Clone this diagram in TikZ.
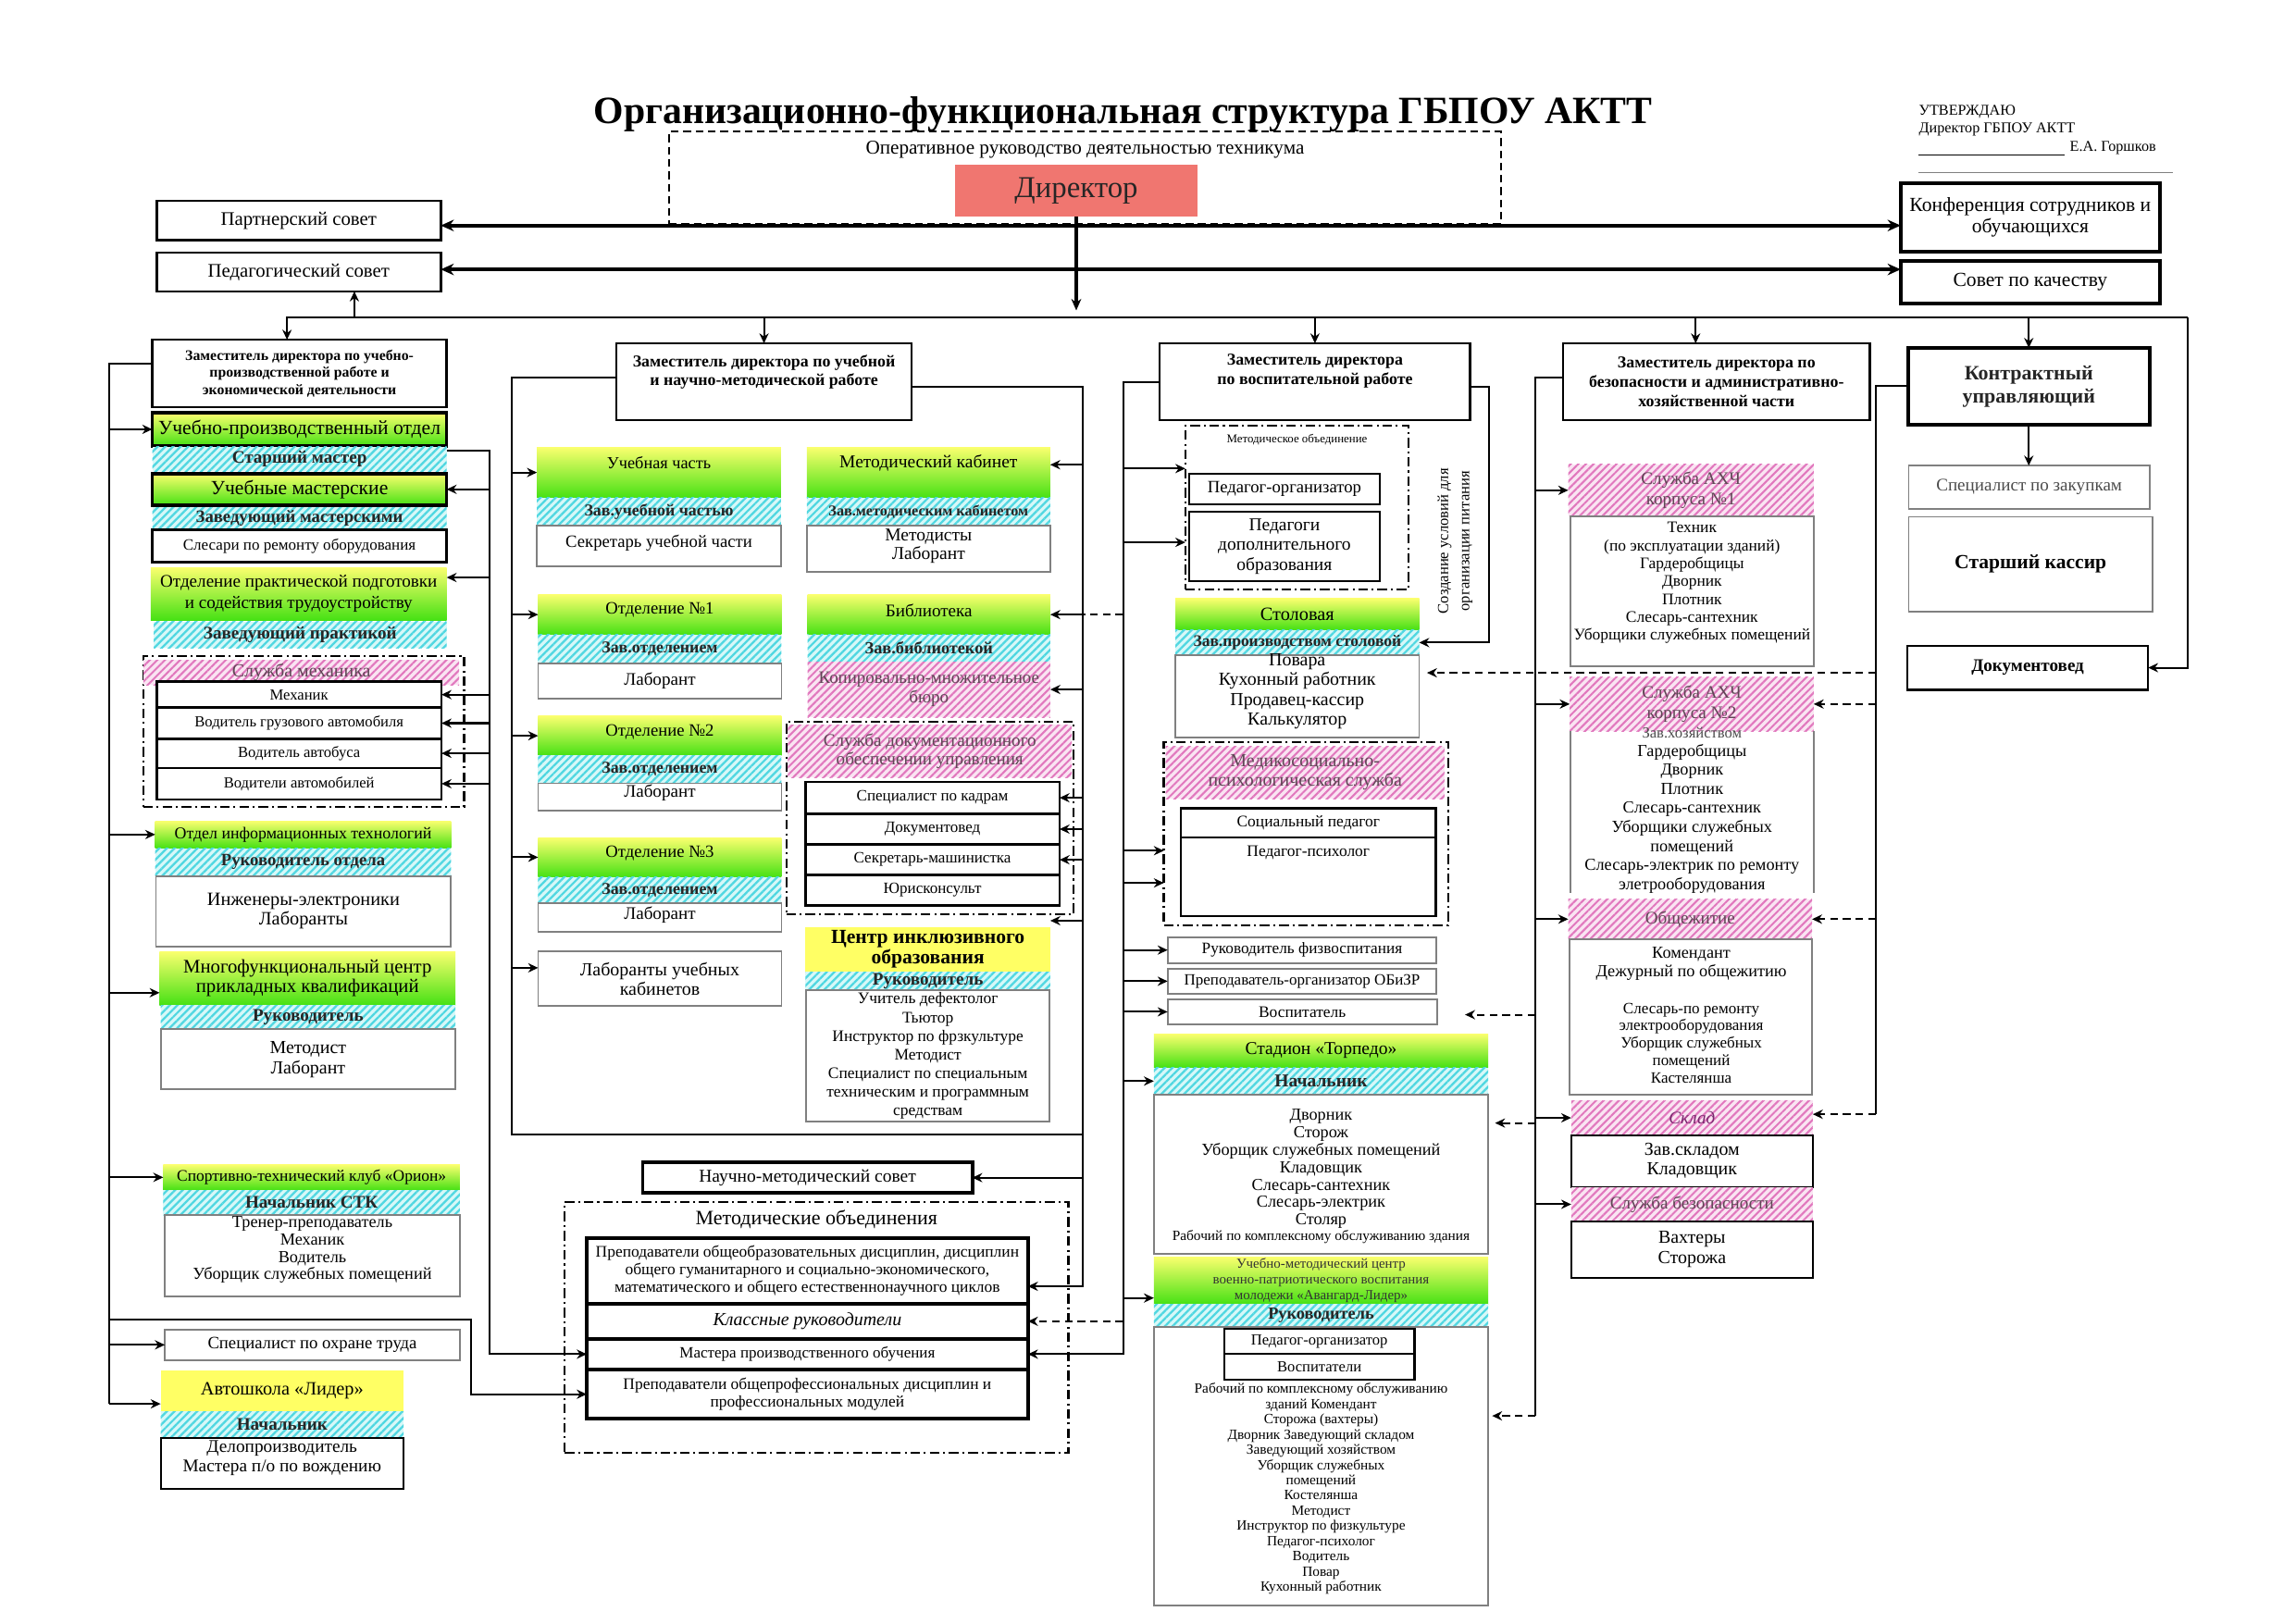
\documentclass[tikz,border=0pt]{standalone}
\usepackage{fontspec}
\setmainfont{Liberation Serif}
\usetikzlibrary{arrows.meta,patterns.meta}
\definecolor{gtop}{RGB}{250,255,110}
\definecolor{gbot}{RGB}{70,225,20}
\definecolor{yel}{RGB}{255,255,100}
\definecolor{cybg}{RGB}{215,248,248}
\definecolor{cyl}{RGB}{80,215,225}
\definecolor{pkbg}{RGB}{250,228,242}
\definecolor{pkl}{RGB}{225,120,190}
\definecolor{pktx}{RGB}{95,70,85}
\definecolor{salm}{RGB}{240,118,112}
\definecolor{skc}{RGB}{120,40,110}
\definecolor{gbr}{RGB}{128,128,128}
\def\un{0.13393mm}
\newcommand\fz[1]{\fontsize{#1}{#1}\selectfont}
\newcommand\fzs[2]{\fontsize{#1}{#2}\selectfont}
\newcommand\bx[7]{\pgfmathsetmacro\bxw{(#4)-(#2)}\pgfmathsetmacro\bxh{(#5)-(#3)}\node[#6,minimum width=\bxw*\un,minimum height=\bxh*\un,anchor=north west] (#1) at (#2,#3) {#7};}
\tikzset{
 base/.style={inner sep=0pt,outer sep=0pt,align=center,text=black},
 wb/.style={base,draw=black,line width=0.5pt,fill=white},
 gb/.style={base,draw=gbr,line width=0.45pt,fill=white},
 grn/.style={base,top color=gtop,bottom color=gbot},
 yel/.style={base,fill=yel},
 cy/.style={base,preaction={fill=cybg},pattern={Lines[angle=45,distance=1.4pt,line width=0.55pt]},pattern color=cyl,text=black!85},
 pk/.style={base,preaction={fill=pkbg},pattern={Lines[angle=45,distance=1.4pt,line width=0.5pt]},pattern color=pkl,text=pktx},
 dd/.style={draw=black,line width=0.55pt,dash pattern=on 2.5pt off 1pt on 0.5pt off 1pt},
 ln/.style={line width=0.5pt},
 arr/.style={line width=0.5pt,-{Stealth[length=2.6pt,width=2.4pt]}},
 darr/.style={arr,dash pattern=on 2pt off 1.3pt},
 tharr2/.style={line width=1pt,{Stealth[length=3.4pt,width=3pt]}-{Stealth[length=3.4pt,width=3pt]}},
 txt/.style={inner sep=0pt,align=center},
}
\begin{document}
\begin{tikzpicture}[x=0.13393mm,y=-0.13393mm]
\useasboundingbox (0,0) rectangle (1568,1109);
\fill[white] (0,0) rectangle (1568,1109);

% ---------- top ----------
\bx{opbox}{457}{90}{1025}{153}{base,draw,line width=0.45pt,dash pattern=on 2pt off 1.2pt}{}
\node[txt,font=\bfseries\fz{10.05}] (title) at (767,78) {Организационно-функциональная структура ГБПОУ АКТТ};
\node[txt,font=\fz{5.1}] (opT) at (741,102) {Оперативное руководство деятельностью техникума};
\bx{dir}{652}{112.5}{818}{148}{base,fill=salm,text=black!85,font=\fz{7.9}}{Директор}
\node[txt,anchor=west,font=\fz{3.9}] (ap1) at (1310,76.5) {УТВЕРЖДАЮ};
\node[txt,anchor=west,font=\fz{3.9}] (ap2) at (1310,88.5) {Директор ГБПОУ АКТТ};
\node[txt,anchor=west,font=\fz{3.9}] (ap3) at (1413,101) {Е.А. Горшков};
\draw[line width=0.3pt] (1310,106) -- (1410,106);
\draw[line width=0.3pt,black!50] (1310,118) -- (1484,118);

\bx{partner}{107}{137}{301}{164}{wb,line width=0.6pt,font=\fz{5}}{Партнерский совет}
\bx{pedsov}{107}{172.5}{301}{199}{wb,line width=0.6pt,font=\fz{5}}{Педагогический совет}
\bx{konf}{1298}{125}{1475}{172}{wb,line width=0.9pt,font=\fzs{5.2}{5.6}}{Конференция сотрудников и\\обучающихся}
\bx{kach}{1298}{178}{1475}{207.5}{wb,line width=0.9pt,font=\fz{5.2}}{Совет по качеству}

% ---------- deputies ----------
\bx{upr}{104}{232}{305}{278}{wb,line width=0.6pt,font=\bfseries\fzs{3.8}{4.5}}{Заместитель директора по учебно-\\производственной работе и\\экономической деятельности}
\bx{umr}{421}{234.5}{622.5}{287}{wb,line width=0.6pt}{}
\node[txt,font=\bfseries\fzs{4.3}{4.75}] (umrT) at (521.75,254.3) {Заместитель директора по учебной\\и научно-методической работе};
\bx{vosp}{792}{234.5}{1004}{287}{wb,line width=0.6pt}{}
\node[txt,font=\bfseries\fzs{4.3}{4.95}] (vospT) at (898,253.5) {Заместитель директора\\по воспитательной работе};
\bx{bez}{1067.5}{234.5}{1277}{287}{wb,line width=0.6pt,font=\bfseries\fzs{4.3}{5.1}}{Заместитель директора по\\безопасности и административно-\\хозяйственной части}
\bx{kontr}{1303}{237.6}{1468}{290}{wb,line width=0.9pt,text=black!85,font=\bfseries\fzs{5.3}{6}}{Контрактный\\управляющий}
\bx{spec}{1303.5}{318}{1468}{347.6}{gb,text=black!70,font=\fz{4.6}}{Специалист по закупкам}
\bx{kass}{1303.5}{353}{1470}{417.5}{gb,font=\bfseries\fz{5.2}}{Старший кассир}
\bx{docved}{1302.5}{441}{1467}{471}{wb,line width=0.6pt,font=\bfseries\fz{4.6}}{Документовед}

% ---------- UPR column ----------
\bx{upo}{104}{282}{305}{304.4}{grn,draw=black,line width=0.9pt,font=\fz{5.2}}{Учебно-производственный отдел}
\bx{sm}{104}{305}{305}{321.7}{cy,font=\bfseries\fz{4.6}}{Старший мастер}
\bx{um}{104}{323.4}{305}{345}{grn,draw=black,line width=0.9pt,font=\fz{5.2}}{Учебные мастерские}
\bx{zm}{104}{346.4}{305}{362}{cy,font=\bfseries\fz{4.5}}{Заведующий мастерскими}
\bx{sl}{104}{362}{305}{384}{wb,line width=0.7pt,font=\fz{4.1}}{Слесари по ремонту оборудования}
\bx{opp}{103}{387.5}{305}{423.5}{grn,font=\fzs{4.6}{5.4}}{Отделение практической подготовки\\и содействия трудоустройству}
\bx{zp}{105}{424.5}{305}{442.4}{cy,font=\bfseries\fz{4.6}}{Заведующий практикой}
\bx{mech}{97.8}{448}{317}{551}{base,dd}{}
\bx{mechH}{98}{450.8}{313.6}{467.7}{pk,font=\fz{4.8}}{Служба механика}
\bx{r1}{107}{465.5}{301.5}{483.3}{wb,line width=0.6pt,font=\fz{4.0}}{Механик}
\bx{r2}{107}{483.3}{301.5}{504.5}{wb,line width=0.6pt,font=\fz{4.0}}{Водитель грузового автомобиля}
\bx{r3}{107}{504.5}{301.5}{524.5}{wb,line width=0.6pt,font=\fz{4.0}}{Водитель автобуса}
\bx{r4}{107}{524.5}{301.5}{546}{wb,line width=0.6pt,font=\fz{4.0}}{Водители автомобилей}
\bx{itH}{106}{560.6}{308}{579.3}{grn,font=\fz{4.3}}{Отдел информационных технологий}
\bx{itC}{106}{579.3}{308}{598.3}{cy,font=\bfseries\fz{4.5}}{Руководитель отдела}
\bx{itB}{106.5}{598.3}{308}{646.3}{gb,font=\fzs{4.9}{5.1}}{Инженеры-электроники\\Лаборанты}
\bx{mfcH}{109}{649.8}{311}{686.4}{grn,font=\fzs{5}{5.1}}{Многофункциональный центр\\прикладных квалификаций}
\bx{mfcC}{109.7}{686.4}{311}{703}{cy,font=\bfseries\fz{4.6}}{Руководитель}
\bx{mfcB}{109.7}{703}{311}{744}{gb,font=\fzs{4.8}{5.33}}{Методист\\Лаборант}
\bx{stkH}{111.5}{795.4}{314}{812.8}{grn,font=\fz{4.2}}{Спортивно-технический клуб «Орион»}
\bx{stkC}{111.5}{812.8}{314}{829.8}{cy,font=\bfseries\fz{4.6}}{Начальник СТК}
\bx{stkB}{112.6}{829.8}{314}{885.5}{gb}{}
\node[txt,font=\fzs{4.4}{4.57}] (stkT) at (213.3,853.5) {Тренер-преподаватель\\Механик\\Водитель\\Уборщик служебных помещений};
\bx{ot}{112.6}{908}{314}{929}{gb,font=\fz{4.5}}{Специалист по охране труда}
\bx{avtoH}{109.7}{936}{275.6}{963.8}{yel,font=\fz{4.9}}{Автошкола «Лидер»}
\bx{avtoC}{109.7}{963.8}{275.6}{982}{cy,font=\bfseries\fz{4.6}}{Начальник}
\bx{avtoB}{109.7}{982}{275.6}{1017}{wb,line width=0.5pt}{}
\node[txt,font=\fzs{4.65}{5.1}] (avtoT) at (192.6,995.7) {Делопроизводитель\\Мастера п/о по вождению};

% ---------- UMR column ----------
\bx{uchH}{366.7}{305.4}{533.3}{340}{grn}{}
\node[txt,font=\fz{4.4}] (uchT) at (450,316) {Учебная часть};
\bx{uchC}{366.7}{340}{533.3}{359}{cy,font=\bfseries\fz{4.3}}{Зав.учебной частью}
\bx{uchB}{366.7}{359}{533.3}{386.5}{gb}{}
\node[txt,font=\fz{4.5}] (uchBT) at (450,370.8) {Секретарь учебной части};
\bx{mkH}{551}{305.4}{717.2}{340}{grn}{}
\node[txt,font=\fz{4.7}] (mkT) at (634.1,316) {Методический кабинет};
\bx{mkC}{551}{340}{717.2}{359}{cy,font=\bfseries\fz{3.9}}{Зав.методическим кабинетом}
\bx{mkB}{551}{359}{717.2}{390.6}{gb}{}
\node[txt,font=\fzs{4.7}{4.8}] (mkBT) at (634.1,372.9) {Методисты\\Лаборант};
\bx{o1H}{367.5}{406}{533.7}{433.5}{grn}{}
\node[txt,font=\fz{4.5}] (o1T) at (450.6,416.7) {Отделение №1};
\bx{o1C}{367.5}{433.5}{533.7}{453}{cy,font=\bfseries\fz{4.3}}{Зав.отделением}
\bx{o1B}{367.5}{453}{533.7}{477}{gb,font=\fz{4.6}}{Лаборант}
\bx{o2H}{367.5}{489}{533.7}{516}{grn}{}
\node[txt,font=\fz{4.5}] (o2T) at (450.6,499.7) {Отделение №2};
\bx{o2C}{367.5}{516}{533.7}{535}{cy,font=\bfseries\fz{4.3}}{Зав.отделением}
\bx{o2B}{367.5}{535}{533.7}{553.6}{gb}{}
\node[txt,font=\fz{4.6}] (o2BT) at (450.6,541.4) {Лаборант};
\bx{o3H}{367.5}{572}{533.7}{599}{grn}{}
\node[txt,font=\fz{4.5}] (o3T) at (450.6,582.5) {Отделение №3};
\bx{o3C}{367.5}{599}{533.7}{617}{cy,font=\bfseries\fz{4.3}}{Зав.отделением}
\bx{o3B}{367.5}{617}{533.7}{636.6}{gb}{}
\node[txt,font=\fz{4.6}] (o3BT) at (450.6,624.6) {Лаборант};
\bx{lab}{367.5}{649.8}{533.7}{687}{gb,font=\fzs{4.8}{5.1}}{Лаборанты учебных\\кабинетов}
\bx{bibH}{551.5}{406}{717.3}{433.5}{grn}{}
\node[txt,font=\fz{4.6}] (bibT) at (634.4,416.7) {Библиотека};
\bx{bibC}{551.5}{433.5}{717.3}{452}{cy,font=\bfseries\fz{4.4}}{Зав.библиотекой}
\bx{kmb}{551.5}{452}{717.3}{489.8}{pk,font=\fzs{4.55}{5}}{Копировально-множительное\\бюро}
\bx{sdou}{537}{493}{733}{624.5}{base,dd}{}
\bx{sdouH}{538}{495}{732}{531}{pk,font=\fzs{4.6}{5}}{Служба документационного\\обеспечении управления}
\bx{kadr}{550}{534}{723.6}{555.7}{wb,line width=0.6pt,font=\fz{4.1}}{Специалист по кадрам}
\bx{docv}{550}{555.7}{723.6}{576.8}{wb,line width=0.6pt,font=\fz{4.1}}{Документовед}
\bx{sec}{550}{576.8}{723.6}{597.6}{wb,line width=0.6pt,font=\fz{4.1}}{Секретарь-машинистка}
\bx{uris}{550}{597.6}{723.6}{618.3}{wb,line width=0.6pt,font=\fz{4.1}}{Юрисконсульт}
\bx{cioH}{550}{633}{717.3}{663.6}{yel,font=\bfseries\fzs{5.2}{5.1}}{Центр инклюзивного\\образования}
\bx{cioC}{550}{663.6}{717.3}{676.2}{cy,font=\bfseries\fz{4.6}}{Руководитель}
\bx{cioB}{550.7}{676.2}{716.7}{765.8}{gb,font=\fzs{4.2}{4.82}}{Учитель дефектолог\\Тьютор\\Инструктор по фрзкультуре\\Методист\\Специалист по специальным\\техническим и программным\\средствам}
\bx{nms}{439}{793.8}{664}{814.8}{wb,line width=0.9pt,font=\fz{4.7}}{Научно-методический совет}
\bx{moBox}{385.6}{821}{729.7}{992.3}{base,dd}{}
\node[txt,font=\fz{5.3}] (moT) at (557.6,833) {Методические объединения};
\bx{mo1}{400.7}{845.6}{702}{890.5}{wb,line width=1pt,font=\fzs{4.2}{4.57}}{Преподаватели общеобразовательных дисциплин, дисциплин\\общего гуманитарного и социально-экономического,\\математического и общего естественнонаучного циклов}
\bx{mo2}{400.7}{890.5}{702}{914.3}{wb,line width=1pt,font=\itshape\fz{4.8}}{Классные руководители}
\bx{mo3}{400.7}{914.3}{702}{935.4}{wb,line width=1pt,font=\fz{4.1}}{Мастера производственного обучения}
\bx{mo4}{400.7}{935.4}{702}{969}{wb,line width=1pt,font=\fzs{4.2}{4.5}}{Преподаватели общепрофессиональных дисциплин и\\профессиональных модулей}

% ---------- Vosp column ----------
\bx{moObj}{809.5}{290.7}{962}{402.4}{base,dd}{}
\node[txt,font=\fz{3.1}] (moObjT) at (885.75,300.2) {Методическое объединение};
\bx{pedorg}{812}{323.4}{942.3}{344.4}{wb,line width=0.4pt,font=\fz{4.5}}{Педагог-организатор}
\bx{peddop}{812}{349.5}{942.3}{397}{wb,line width=0.4pt,font=\fzs{4.7}{5.2}}{Педагоги\\дополнительного\\образования}
\bx{stolH}{802.7}{408.7}{969.2}{430.2}{grn,font=\fz{4.9}}{Столовая}
\bx{stolC}{802.7}{430.2}{969.2}{447.5}{cy,font=\bfseries\fz{4.2}}{Зав.производством столовой}
\bx{stolB}{802.7}{447.5}{969.2}{503.7}{gb}{}
\node[txt,font=\fzs{4.8}{5.14}] (stolT) at (885.9,472.2) {Повара\\Кухонный работник\\Продавец-кассир\\Калькулятор};
\node[txt,rotate=90,font=\fzs{4}{5.45}] (pit) at (993.7,369.5) {Создание условий для\\организации питания};
\bx{medBox}{794.8}{506.7}{989}{632}{base,dd}{}
\bx{medH}{796}{509.8}{986.5}{545.5}{pk,font=\fzs{4.8}{5.1}}{Медикосоциально-\\психологическая служба}
\bx{soc}{806.5}{551.9}{980.5}{572}{wb,line width=0.6pt,font=\fz{4.2}}{Социальный педагог}
\bx{psy}{806.5}{572}{980.5}{625.7}{wb,line width=0.6pt}{}
\node[txt,font=\fz{4.2}] (psyT) at (893.5,582.5) {Педагог-психолог};
\bx{rfv}{797.4}{640}{981}{657.7}{gb,font=\fz{4.15}}{Руководитель физвоспитания}
\bx{prep}{797.4}{661.5}{981}{678.8}{gb,font=\fz{4.1}}{Преподаватель-организатор ОБиЗР}
\bx{vosp1}{797.4}{682.5}{981.3}{699.6}{gb,font=\fz{4.2}}{Воспитатель}
\bx{stadH}{788}{706}{1016.3}{729}{grn,font=\fz{4.7}}{Стадион «Торпедо»}
\bx{stadC}{788}{729}{1016.3}{747.7}{cy,font=\bfseries\fz{4.7}}{Начальник}
\bx{stadB}{788}{747.7}{1016.3}{856.4}{gb}{}
\node[txt,font=\fzs{4.4}{4.57}] (stadT) at (902.15,798.2) {Дворник\\Сторож\\Уборщик служебных помещений\\Кладовщик\\Слесарь-сантехник\\Слесарь-электрик\\Столяр};
\node[txt,font=\fz{3.7}] (stadT2) at (902.15,845) {Рабочий по комплексному обслуживанию здания};
\bx{avgH}{788}{858.3}{1016.3}{890.7}{grn,text=black!80,font=\fzs{3.6}{4.2}}{Учебно-методический центр\\военно-патриотического воспитания\\молодежи «Авангард-Лидер»}
\bx{avgC}{788}{890.7}{1016.3}{906.3}{cy,font=\bfseries\fz{4.4}}{Руководитель}
\bx{avgB}{788}{906.3}{1016.3}{1096.6}{gb}{}
\bx{avgPO}{836}{907.6}{966}{924.6}{wb,line width=0.5pt,font=\fz{4}}{Педагог-организатор}
\bx{avgV}{836}{924.6}{966}{942.3}{wb,line width=0.5pt,font=\fz{4}}{Воспитатели}
\node[txt,font=\fzs{3.7}{3.97}] (avgT) at (902.15,1016.8) {Рабочий по комплексному обслуживанию\\зданий Комендант\\Сторожа (вахтеры)\\Дворник Заведующий складом\\Заведующий хозяйством\\Уборщик служебных\\помещений\\Костелянша\\Методист\\Инструктор по физкультуре\\Педагог-психолог\\Водитель\\Повар\\Кухонный работник};

% ---------- Bez column ----------
\bx{ahx1H}{1071}{317}{1238.6}{352.7}{pk,font=\fzs{4.6}{5.2}}{Служба АХЧ\\корпуса №1}
\bx{ahx1B}{1072.5}{352.7}{1238.6}{455}{gb}{}
\node[txt,font=\fzs{4.2}{4.65}] (ahx1T) at (1155.5,398.1) {Техник\\(по эксплуатации зданий)\\Гардеробщицы\\Дворник\\Плотник\\Слесарь-сантехник\\Уборщики служебных помещений};
\bx{ahx2H}{1072}{462.4}{1238.6}{499.3}{pk,font=\fzs{4.6}{5.2}}{Служба АХЧ\\корпуса №2}
\bx{ahx2B}{1072.5}{499.3}{1238.6}{610}{base}{}
\draw[gbr,line width=0.45pt] (ahx2B.north west) -- (ahx2B.south west) (ahx2B.north east) -- (ahx2B.south east);
\node[txt,text=black!70,font=\fz{4}] (ahx2Z) at (1155.5,500.3) {Зав.хозяйством};
\node[txt,font=\fzs{4.4}{4.95}] (ahx2T) at (1155.5,559.1) {Гардеробщицы\\Дворник\\Плотник\\Слесарь-сантехник\\Уборщики служебных\\помещений\\Слесарь-электрик по ремонту\\элетрооборудования};
\bx{obH}{1071}{614}{1237.5}{641.5}{pk,font=\fz{4.6}}{Общежитие}
\bx{obB}{1072}{641.5}{1237.5}{747.5}{gb}{}
\node[txt,font=\fzs{4.4}{4.8}] (obT1) at (1155,658.4) {Комендант\\Дежурный по общежитию};
\node[txt,font=\fzs{4.1}{4.55}] (obT2) at (1155,712.4) {Слесарь-по ремонту\\электрооборудования\\Уборщик служебных\\помещений\\Кастелянша};
\bx{skH}{1073}{751.6}{1238}{775.3}{pk,text=skc,font=\itshape\fz{4.6}}{Склад}
\bx{skB}{1073}{775.3}{1238}{810.6}{wb,line width=0.5pt,font=\fzs{4.8}{5}}{Зав.складом\\Кладовщик}
\bx{sbH}{1073}{811}{1238}{834}{pk,font=\fz{4.6}}{Служба безопасности}
\bx{sbB}{1073}{834}{1238}{873}{wb,line width=0.5pt,font=\fzs{4.8}{5.3}}{Вахтеры\\Сторожа}

% ---------- connectors: top ----------
\coordinate (pl) at (0,154);
\coordinate (pdl) at (0,184);
\draw[tharr2] (pl -| partner.east) -- (pl -| konf.west);
\draw[tharr2] (pdl -| pedsov.east) -- (pdl -| kach.west);
\coordinate (dirEnd) at (735,212);
\draw[line width=0.8pt,-{Stealth[length=3pt,width=2.6pt]}] (dir.south) -- (dirEnd);
\coordinate (busL) at (196,217);
\coordinate (busR) at (1494,217);
\coordinate (busP) at (242,217);
\coordinate (busB) at (1158,217);
\draw[arr] (busR) -- (busL) -- (busL |- upr.north);
\draw[arr] (busR) |- (docved.east);
\draw[arr] (busP) -- (busP |- pedsov.south);
\draw[arr] (busL -| umr.north) -- (umr.north);
\draw[arr] (busL -| vosp.north) -- (vosp.north);
\draw[arr] (busB) -- (busB |- bez.north);
\draw[arr] (busL -| kontr.north) -- (kontr.north);
\draw[arr] (kontr.south) -- (kontr.south |- spec.north);

% ---------- UPR connectors ----------
\coordinate (uLt) at (74.6,248.5);
\coordinate (uLb) at (74.6,958.8);
\coordinate (uLm) at (74.6,678);
\draw[ln] (uLt -| upr.west) -- (uLt) -- (uLb);
\draw[arr] (uLb) -- (uLb -| avtoH.west);
\draw[arr] (upo.west -| uLt) -- (upo.west);
\draw[arr] (itH.west -| uLt) -- (itH.west);
\draw[arr] (uLm) -- (uLm -| mfcH.west);
\draw[arr] (stkH.west -| uLt) -- (stkH.west);
\draw[arr] (ot.west -| uLt) -- (ot.west);
\coordinate (br1) at (74.6,901);
\coordinate (br2) at (321.5,901);
\draw[arr] (br1) -- (br2) |- (mo4.west);
\coordinate (uRt) at (334.6,308);
\coordinate (uRo) at (334.6,394.4);
\draw[arr] (uRt -| sm.east) -- (uRt) |- (mo3.west);
\draw[arr] (um.east -| uRt) -- (um.east);
\draw[arr] (uRo) -- (uRo -| opp.east);
\draw[arr] (r1.east -| uRt) -- (r1.east);
\draw[arr] (r2.east -| uRt) -- (r2.east);
\draw[arr] (r3.east -| uRt) -- (r3.east);
\draw[arr] (r4.east -| uRt) -- (r4.east);

% ---------- UMR connectors ----------
\coordinate (mLt) at (349.6,258);
\coordinate (mLb) at (349.6,775);
\coordinate (mLl) at (349.6,661);
\coordinate (mRt) at (739.4,264);
\coordinate (mRb) at (739.4,878.5);
\coordinate (mRk) at (739.4,317.4);
\coordinate (mRc) at (739.4,628.8);
\coordinate (mRct) at (717.3,628.8);
\draw[ln] (mLt -| umr.west) -- (mLt) -- (mLb) -- (mLb -| mRt);
\draw[arr] (mRt -| umr.east) -- (mRt) -- (mRb) -- (mRb -| mo1.east);
\draw[arr] (uchH.west -| mLt) -- (uchH.west);
\draw[arr] (o1H.west -| mLt) -- (o1H.west);
\draw[arr] (o2H.west -| mLt) -- (o2H.west);
\draw[arr] (o3H.west -| mLt) -- (o3H.west);
\draw[arr] (mLl) -- (mLl -| lab.west);
\draw[arr] (mRk) -- (mRk -| mkH.east);
\draw[arr] (bibH.east -| mRt) -- (bibH.east);
\draw[arr] (kmb.east -| mRt) -- (kmb.east);
\draw[arr] (kadr.east -| mRt) -- (kadr.east);
\draw[arr] (docv.east -| mRt) -- (docv.east);
\draw[arr] (sec.east -| mRt) -- (sec.east);
\draw[arr] (mRc) -- (mRct);
\draw[arr] (nms.east -| mRt) -- (nms.east);

% ---------- Vosp connectors ----------
\coordinate (vLt) at (767,261);
\coordinate (vRt) at (1017,264);
\coordinate (vL1) at (767,320);
\coordinate (vL2) at (767,370.4);
\coordinate (vL3) at (767,581);
\coordinate (vL4) at (767,603);
\coordinate (vL5) at (767,886.5);
\draw[arr] (vLt -| vosp.west) -- (vLt) |- (mo3.east);
\draw[ln,dash pattern=on 2pt off 1.3pt] (bibH.east -| vLt) -- (bibH.east -| mRt);
\draw[arr] (vL1) -- (vL1 -| moObj.west);
\draw[arr] (vL2) -- (vL2 -| moObj.west);
\draw[arr] (vL3) -- (vL3 -| medBox.west);
\draw[arr] (vL4) -- (vL4 -| medBox.west);
\draw[arr] (rfv.west -| vLt) -- (rfv.west);
\draw[arr] (prep.west -| vLt) -- (prep.west);
\draw[arr] (vosp1.west -| vLt) -- (vosp1.west);
\draw[arr] (stadC.west -| vLt) -- (stadC.west);
\draw[arr] (vL5) -- (vL5 -| avgH.west);
\draw[darr] (mo2.east -| vLt) -- (mo2.east);
\draw[arr] (vRt -| vosp.east) -- (vRt) |- (stolC.east);

% ---------- Bez connectors ----------
\coordinate (bLt) at (1048.5,258);
\coordinate (bLb) at (1048.5,967);
\draw[ln] (bLt -| bez.west) -- (bLt) -- (bLb);
\draw[arr] (ahx1H.west -| bLt) -- (ahx1H.west);
\draw[arr] (ahx2H.west -| bLt) -- (ahx2H.west);
\draw[arr] (obH.west -| bLt) -- (obH.west);
\draw[arr] (skH.west -| bLt) -- (skH.west);
\draw[arr] (sbH.west -| bLt) -- (sbH.west);
\coordinate (bD1) at (1000.5,693);
\coordinate (bD2) at (1021,767);
\coordinate (bD3) at (1019,967);
\draw[darr] (bD1 -| bLt) -- (bD1);
\draw[darr] (bD2 -| bLt) -- (bD2);
\draw[darr] (bLb) -- (bD3);

% ---------- Kontr connectors ----------
\coordinate (kLt) at (1281,264);
\coordinate (kLb) at (1281,761);
\coordinate (kD1) at (1281,459.5);
\coordinate (kD1e) at (974.5,459.5);
\draw[ln] (kontr.west) -- (kontr.west -| kLt) -- (kLb);
\draw[darr] (kLb) -- (kLb -| skH.east);
\draw[darr] (kD1) -- (kD1e);
\draw[darr] (ahx2H.east -| kLt) -- (ahx2H.east);
\draw[darr] (obH.east -| kLt) -- (obH.east);
\end{tikzpicture}
\end{document}
